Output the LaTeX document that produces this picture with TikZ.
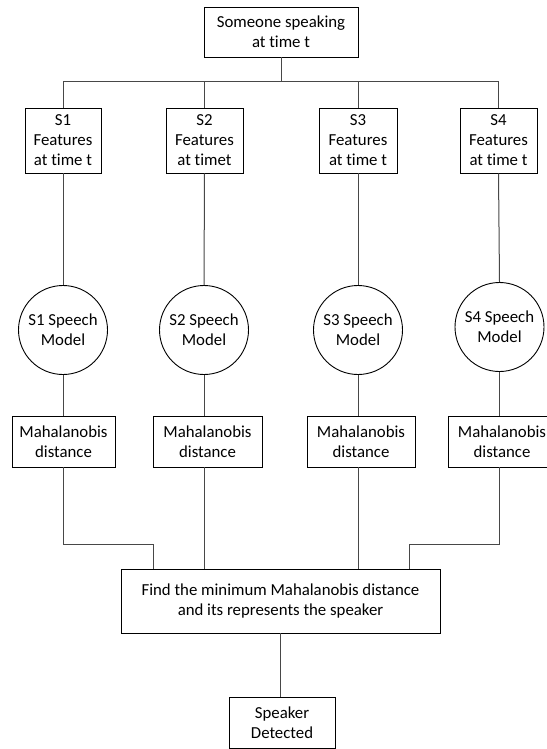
\documentclass[tikz,border=0pt]{standalone}
\usepackage{fontspec}
\setmainfont{Carlito}[Ligatures=NoCommon]
\begin{document}
\begin{tikzpicture}[x=1pt,y=-1pt,
  txt/.style={align=center, font=\fontsize{16.8}{20}\selectfont},
  box/.style={txt, draw=black, line width=0.9pt, inner sep=0pt},
  model/.style={txt, circle, draw=black, line width=0.9pt, inner sep=0pt, minimum size=89pt},
  link/.style={draw={rgb,255:red,72;green,72;blue,72}, line width=1pt}]
\useasboundingbox (0,0) rectangle (546,749);
\fill[white] (0,0) rectangle (546,749);

% input
\node[box, minimum width=154pt, minimum height=50pt] (top) at (281,32) {Someone speaking\\at time t};

% per-speaker feature extraction
\node[box, minimum width=76pt, minimum height=65pt] (f1) at (63,140.5) {S1\\Features\\at time t};
\node[box, minimum width=77pt, minimum height=65pt] (f2) at (204.5,140.5) {S2\\Features\\at timet};
\node[box, minimum width=78pt, minimum height=65pt] (f3) at (358,140.5) {S3\\Features\\at time t};
\node[box, minimum width=77pt, minimum height=65pt] (f4) at (498.5,140.5) {S4\\Features\\at time t};

% speech models
\node[model] (m1) at (63,330) {S1 Speech\\Model};
\node[model] (m2) at (204,330) {S2 Speech\\Model};
\node[model] (m3) at (358,330) {S3 Speech\\Model};
\node[model] (m4) at (499.5,327) {S4 Speech\\Model};

% distances
\node[box, minimum width=103pt, minimum height=51pt] (d1) at (63.5,441.5) {Mahalanobis\\distance};
\node[box, minimum width=109pt, minimum height=51pt] (d2) at (207.5,441.5) {Mahalanobis\\distance};
\node[box, minimum width=108pt, minimum height=51pt] (d3) at (361,441.5) {Mahalanobis\\distance};
\node[box, minimum width=108pt, minimum height=51pt] (d4) at (502,441.5) {Mahalanobis\\distance};

% decision
\node[box, minimum width=319pt, minimum height=64pt] (find) at (280.5,601) {Find the minimum Mahalanobis distance\\and its represents the speaker};
\node[box, minimum width=106pt, minimum height=51pt] (spk) at (282,722.5) {Speaker\\Detected};

% fan-out bus
\coordinate (bus) at (281,82);
\draw[link] (top.south) -- (bus);
\draw[link] (f1.north) -- (f1.north |- bus) -- (f4.north |- bus) -- (f4.north);
\draw[link] (f2.north) -- (f2.north |- bus);
\draw[link] (f3.north) -- (f3.north |- bus);

% features to models
\draw[link] (f1.south) -- (m1.north);
\draw[link] (f2.south) -- (m2.north);
\draw[link] (f3.south) -- (m3.north);
\draw[link] (f4.south) -- (m4.north);

% models to distances
\draw[link] (m1.south) -- (m1.south |- d1.north);
\draw[link] (m2.south) -- (m2.south |- d2.north);
\draw[link] (m3.south) -- (m3.south |- d3.north);
\draw[link] (m4.south) -- (m4.south |- d4.north);

% distances into the decision box
\coordinate (elbowL) at (153,544);
\coordinate (elbowR) at (409,544);
\draw[link] (m1.south |- d1.south) -- (m1.south |- elbowL) -- (elbowL) -- (elbowL |- find.north);
\draw[link] (m2.south |- d2.south) -- (m2.south |- find.north);
\draw[link] (m3.south |- d3.south) -- (m3.south |- find.north);
\draw[link] (m4.south |- d4.south) -- (m4.south |- elbowR) -- (elbowR) -- (elbowR |- find.north);

% result
\draw[link] (find.south) -- (find.south |- spk.north);
\end{tikzpicture}
\end{document}
